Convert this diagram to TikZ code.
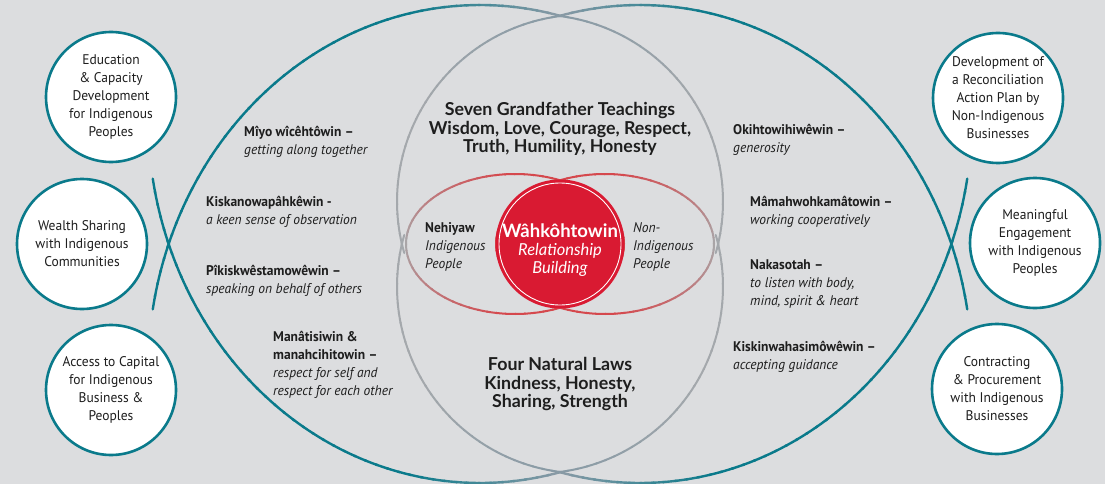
\documentclass[tikz,border=0pt]{standalone}
\usepackage{fontspec}
\setmainfont{PT Sans}[FakeStretch=0.965]
\newfontfamily\headfont{Lato}
\definecolor{bgc}{HTML}{DCDDDF}
\definecolor{tealc}{HTML}{0A7A8B}
\definecolor{bluegrey}{HTML}{889AA5}
\definecolor{greyc}{HTML}{A4A8AC}
\definecolor{redc}{HTML}{D91A32}
\definecolor{ellred}{HTML}{D5484D}
\definecolor{ellgrey}{HTML}{A8A8AA}
\definecolor{txt}{HTML}{1E1E1E}
\begin{document}
\begin{tikzpicture}[x=1pt,y=-1pt,line cap=round,
  sidecircle/.style={circle,draw=tealc,line width=2.6pt,fill=white,minimum size=130pt,inner sep=0pt,align=center,text=txt,font=\fontsize{14}{18}\selectfont},
  kword/.style={anchor=west,align=left,inner sep=0pt,text=txt,font=\fontsize{14}{18}\selectfont},
  headtext/.style={align=center,inner sep=0pt,text=txt,font=\headfont\bfseries\fontsize{17.8}{18.6}\selectfont}]
\fill[bgc] (0,0) rectangle (1105,484);
\useasboundingbox (0,0) rectangle (1105,484);

% outer teal arcs (fish shape)
\foreach \sx in {1,-1}{
 \foreach \sy in {1,-1}{
  \foreach \s in {76,78,...,168}{
   \pgfmathsetmacro\e{\s+2.3}
   \pgfmathsetmacro\p{min(100,(\s-76)*4)}
   \draw[color=tealc!\p!bluegrey,line width=2.4pt] plot[domain=\s:\e,samples=3,variable=\t]
     ({560+\sx*(-80+332*cos(\t))},{244+\sy*(127-366*sin(\t))});
  }}}

% grey arcs
\foreach \sx in {1,-1}{
 \foreach \sy in {1,-1}{
  \foreach \s in {-16,-13,...,80}{
   \pgfmathsetmacro\e{\s+3.3}
   \pgfmathsetmacro\p{max(0,min(100,(\s-30)*2))}
   \draw[color=bluegrey!\p!greyc,line width=2pt] plot[domain=\s:\e,samples=3,variable=\t]
     ({560+\sx*(-24+187*cos(\t))},{244+\sy*(-42.5-187*sin(\t))});
  }}}

% inner ellipses
\foreach \cx/\tip in {515/180,605/0}{
  \foreach \s in {0,5,...,355}{
   \pgfmathsetmacro\e{\s+5.5}
   \pgfmathsetmacro\p{min(100,1.2*acos(cos(\s+2.5-\tip)))}
   \draw[color=ellred!\p!ellgrey,line width=2pt] plot[domain=\s:\e,samples=3,variable=\t]
     ({\cx+109*cos(\t)},{244-70*sin(\t)});
  }}

% central circle
\node[circle,fill=redc,minimum size=129pt,inner sep=0pt] (core) at (560,244) {};
\node[circle,draw=white,line width=0.9pt,minimum size=122pt,inner sep=0pt] (ring) at (560,244) {};
\node[font=\headfont\bfseries\fontsize{18.5}{20}\selectfont,text=white,inner sep=0pt] (wah) at (560,231) {Wâhkôhtowin};
\node[font=\headfont\itshape\fontsize{16.5}{18.5}\selectfont,text=white,align=center,inner sep=0pt] (rel) at (560,260) {Relationship\\Building};

% headings
\node[headtext] (seven) at (560,129) {Seven Grandfather Teachings\\Wisdom, Love, Courage, Respect,\\Truth, Humility, Honesty};
\node[headtext] (four) at (560,384) {Four Natural Laws\\Kindness, Honesty,\\Sharing, Strength};

\node[kword] (neh) at (425,247) {\textbf{Nehiyaw}\\\textit{Indigenous}\\\textit{People}};
\node[kword] (non) at (633,247) {\textit{Non-}\\\textit{Indigenous}\\\textit{People}};

% left teachings
\node[kword] (miyo) at (244,142) {\textbf{Mîyo wîcêhtôwin –}\\\textit{getting along together}};
\node[kword] (kiska) at (206,212) {\textbf{Kiskanowapâhkêwin -}\\\textit{a keen sense of observation}};
\node[kword] (piki) at (206,281) {\textbf{Pîkiskwêstamowêwin –}\\\textit{speaking on behalf of others}};
\node[kword] (mana) at (273,365) {\textbf{Manâtisiwin \&}\\\textbf{manahcihitowin –}\\\textit{respect for self and}\\\textit{respect for each other}};
% right teachings
\node[kword] (okih) at (733,140) {\textbf{Okihtowihiwêwin –}\\\textit{generosity}};
\node[kword] (mama) at (750,212) {\textbf{Mâmahwohkamâtowin –}\\\textit{working cooperatively}};
\node[kword] (naka) at (750,284) {\textbf{Nakasotah –}\\\textit{to listen with body,}\\\textit{mind, spirit \& heart}};
\node[kword] (kiskin) at (733,357) {\textbf{Kiskinwahasimôwêwin –}\\\textit{accepting guidance}};

% side circles
\node[sidecircle] (c1) at (111,97) {Education\\\& Capacity\\Development\\for Indigenous\\Peoples};
\node[sidecircle] (c2) at (82,244) {Wealth Sharing\\with Indigenous\\Communities};
\node[sidecircle] (c3) at (111,390) {Access to Capital\\for Indigenous\\Business \&\\Peoples};
\node[sidecircle] (r1) at (998,98) {Development of\\a Reconciliation\\Action Plan by\\Non-Indigenous\\Businesses};
\node[sidecircle] (r2) at (1035,243) {Meaningful\\Engagement\\with Indigenous\\Peoples};
\node[sidecircle] (r3) at (997,389) {Contracting\\\& Procurement\\with Indigenous\\Businesses};
\end{tikzpicture}
\end{document}
